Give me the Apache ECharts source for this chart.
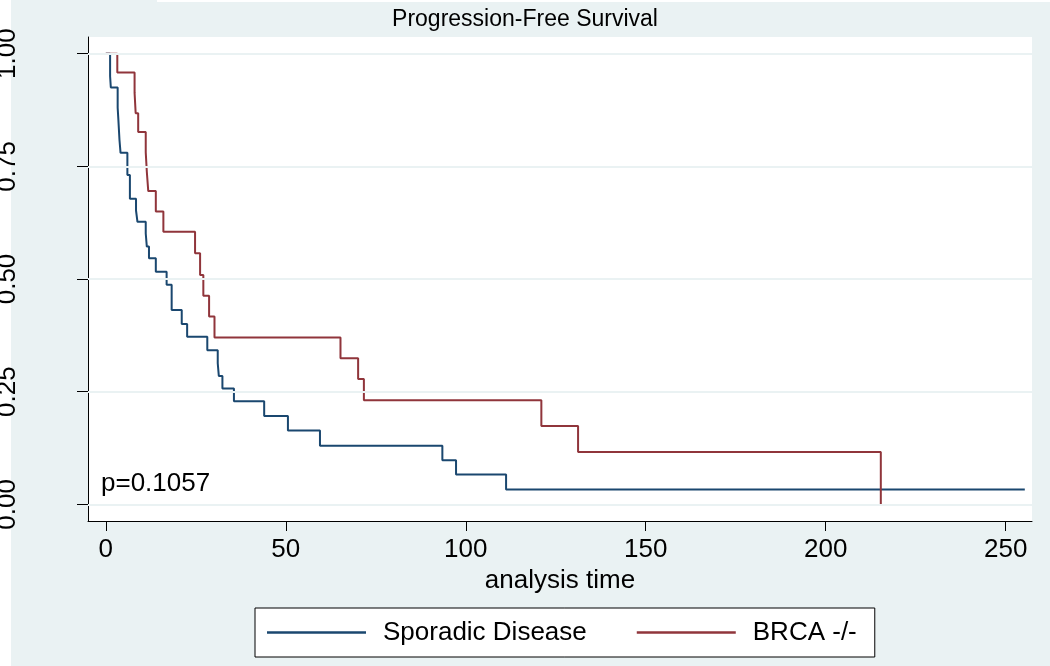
<!DOCTYPE html>
<html>
<head>
<meta charset="utf-8">
<script src="https://cdn.jsdelivr.net/npm/echarts@6/dist/echarts.min.js"></script>
<style>
  html, body { margin: 0; padding: 0; background: #ffffff; }
  #chart { width: 1050px; height: 666px; }
</style>
</head>
<body>
<div id="chart"></div>
<script>
// ---- Data (Kaplan-Meier step curves) ----
const titleText = 'Progression-Free Survival';
const xName = 'analysis time';
const pValueText = 'p=0.1057';
const seriesNames = ['Sporadic Disease', 'BRCA -/-'];

const xTicks = [0, 50, 100, 150, 200, 250];
const yTicks = [0, 0.25, 0.5, 0.75, 1];

// Sporadic Disease: time of each drop and survival after it
const sporadicTime = [0, 1.2, 1.4, 3.3, 3.5, 3.8, 4.1, 6.0, 6.7, 8.4, 8.8, 11.1, 11.4, 12.0, 13.9, 16.9, 18.3, 21.1, 22.6, 28.2, 31.1, 31.4, 32.4, 35.6, 44.0, 50.6, 59.5, 93.5, 97.3, 111.2, 255.3];
const sporadicSurv = [1.0, 0.950, 0.925, 0.880, 0.853, 0.809, 0.780, 0.731, 0.678, 0.652, 0.627, 0.601, 0.572, 0.546, 0.516, 0.487, 0.431, 0.400, 0.372, 0.342, 0.313, 0.285, 0.257, 0.229, 0.196, 0.164, 0.130, 0.098, 0.066, 0.033, 0.033];

// BRCA -/-
const brcaTime = [0, 3.2, 8.0, 8.3, 9.0, 11.1, 11.4, 11.8, 13.9, 16.0, 24.8, 26.2, 27.1, 28.7, 30.2, 65.2, 70.1, 71.7, 121.0, 131.2, 215.3];
const brcaSurv = [1.0, 0.958, 0.913, 0.868, 0.826, 0.781, 0.738, 0.695, 0.650, 0.605, 0.557, 0.509, 0.463, 0.417, 0.370, 0.324, 0.278, 0.231, 0.174, 0.116, 0.0];

// ---- Build chart ----
const FONT = 'Liberation Sans, Arial, Helvetica, sans-serif';
const BG = '#eaf2f3';
const BLUE = '#1a476f';
const RED = '#90353b';

const zip = (a, b) => a.map((v, i) => [v, b[i]]);

const chart = echarts.init(document.getElementById('chart'), null, { renderer: 'canvas' });

const option = {
  animation: false,
  backgroundColor: BG,
  textStyle: { fontFamily: FONT },
  title: {
    text: titleText,
    left: 'center',
    top: 3,
    textStyle: { fontFamily: FONT, fontSize: 23, fontWeight: 'normal', color: '#000' }
  },
  grid: {
    left: 88, right: 18, top: 37, bottom: 145,
    containLabel: false,
    outerBoundsMode: 'none',
    show: true, backgroundColor: '#ffffff', borderWidth: 0
  },
  legend: {
    data: seriesNames,
    left: 255,
    top: 608,
    orient: 'horizontal',
    icon: 'rect',
    itemWidth: 99,
    itemHeight: 2.5,
    itemGap: 50,
    backgroundColor: '#ffffff',
    borderColor: '#000000',
    borderWidth: 1,
    padding: [10, 18, 10, 12],
    textStyle: { fontFamily: FONT, fontSize: 26, color: '#000', lineHeight: 29, padding: [0, 0, 0, 12] }
  },
  xAxis: {
    type: 'value',
    min: -4.94,
    max: 257.3,
    name: xName,
    nameLocation: 'middle',
    nameGap: 45,
    nameTextStyle: { fontFamily: FONT, fontSize: 26, color: '#000' },
    axisLine: { show: true, onZero: false, lineStyle: { color: '#000', width: 1 } },
    axisTick: { show: true, length: 10, customValues: xTicks, lineStyle: { color: '#000', width: 1 } },
    axisLabel: { customValues: xTicks, margin: 16, fontFamily: FONT, fontSize: 26, color: '#000' },
    splitLine: { show: false }
  },
  yAxis: {
    type: 'value',
    min: -0.037,
    max: 1.037,
    axisLine: { show: true, onZero: false, lineStyle: { color: '#000', width: 1 } },
    axisTick: { show: true, length: 11, customValues: yTicks, lineStyle: { color: '#000', width: 1 } },
    axisLabel: {
      customValues: yTicks,
      rotate: 90,
      margin: 67,
      fontFamily: FONT, fontSize: 26, color: '#000',
      formatter: v => v.toFixed(2)
    },
    splitLine: { show: false }
  },
  graphic: [
    { type: 'rect', left: 0, top: 0, shape: { width: 11, height: 666 }, style: { fill: '#ffffff' }, z: -1, silent: true },
    { type: 'rect', left: 157, top: 0, shape: { width: 893, height: 2 }, style: { fill: '#ffffff' }, z: -1, silent: true },
    {
      type: 'text', left: 101, top: 471, z: 10, silent: true,
      style: { text: pValueText, fill: '#000', font: '26px ' + FONT }
    }
  ],
  series: [
    {
      name: '_grid',
      type: 'line',
      data: [],
      z: 1,
      silent: true,
      markLine: {
        silent: true,
        symbol: ['none', 'none'],
        label: { show: false },
        lineStyle: { color: BG, width: 2, type: 'solid' },
        emphasis: { disabled: true },
        data: yTicks.map(v => ({ yAxis: v }))
      }
    },
    {
      name: seriesNames[0],
      type: 'line',
      step: 'end',
      showSymbol: false,
      symbol: 'none',
      z: 3,
      lineStyle: { color: BLUE, width: 2 },
      itemStyle: { color: BLUE },
      data: zip(sporadicTime, sporadicSurv)
    },
    {
      name: seriesNames[1],
      type: 'line',
      step: 'end',
      showSymbol: false,
      symbol: 'none',
      z: 3,
      lineStyle: { color: RED, width: 2 },
      itemStyle: { color: RED },
      data: zip(brcaTime, brcaSurv)
    }
  ]
};

chart.setOption(option);
</script>
</body>
</html>
